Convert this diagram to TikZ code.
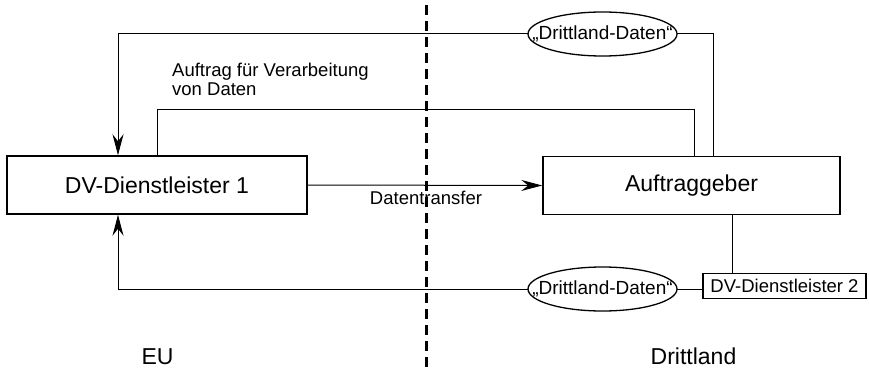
\documentclass[tikz,border=0pt]{standalone}
\usepackage{fontspec}
\setmainfont{Liberation Sans}
\usetikzlibrary{arrows.meta}
\tikzset{
  bigbox/.style={draw,line width=1.5pt,minimum width=#1,minimum height=58pt,inner sep=0pt,font=\fontsize{23}{27}\selectfont},
  smallbox/.style={draw,line width=1.3pt,minimum width=163pt,minimum height=25pt,inner sep=0pt,font=\fontsize{18.5}{22}\selectfont},
  oval/.style={inner sep=0pt,minimum width=149pt,minimum height=44pt,font=\fontsize{19}{22}\selectfont},
  ovalline/.style={line width=1.3pt},
  conn/.style={line width=1pt},
  arr/.style={line width=1pt,-{Stealth[length=21pt,width=11pt,inset=7pt]}},
  lbl/.style={inner sep=0pt,font=\fontsize{18.5}{22}\selectfont},
  biglbl/.style={inner sep=0pt,font=\fontsize{23}{27}\selectfont},
  border/.style={line width=3pt,dash pattern=on 10pt off 6pt}
}
\begin{document}
\begin{tikzpicture}[x=1pt,y=-1pt]
\useasboundingbox (0,0) rectangle (869,369);
% nodes
\node[bigbox=300pt] (dv1) at (157,185) {DV-Dienstleister 1};
\node[bigbox=297pt] (ag) at (691.5,185.5) {Auftraggeber};
\node[smallbox] (dv2) at (784.5,286) {DV-Dienstleister 2};
\node[oval] (e1) at (602.5,34) {„Drittland-Daten“};
\node[oval] (e2) at (602.5,289) {„Drittland-Daten“};
\draw[ovalline] (e1.center) ellipse [x radius=74.5pt, y radius=22pt];
\draw[ovalline] (e2.center) ellipse [x radius=74.5pt, y radius=22pt];
% coordinates
\coordinate (tl) at (118,34);
\coordinate (tr) at (713,34);
\coordinate (mr) at (694,109);
\coordinate (br) at (732,250);
\coordinate (dt) at (426,5);
\coordinate (db) at (426,369);
% dashed border
\draw[border] (dt) -- (db);
% top loop
\draw[conn] (e1.east) -| (ag.north -| tr);
\draw[arr] (e1.west) -| (dv1.north -| tl);
% middle: Auftrag
\draw[conn] (dv1.north) |- (mr) -- (ag.north -| mr);
% Datentransfer
\draw[arr] (dv1.east) -- (ag.west);
% bottom loop
\draw[arr] (e2.west) -| (dv1.south -| tl);
\draw[conn] (e2.east) -- (e2.east -| dv2.west);
\draw[conn] (ag.south -| br) -- (dv2.north -| br);
% labels
\node[lbl,anchor=base west] (a1) at (172,77) {Auftrag für Verarbeitung};
\node[lbl,anchor=base west] (a2) at (172,95.5) {von Daten};
\node[lbl,anchor=base] (dtr) at (426,204) {Datentransfer};
\node[biglbl,anchor=base] (eu) at (157.5,364) {EU};
\node[biglbl,anchor=base] (dl) at (693.5,364) {Drittland};
\end{tikzpicture}
\end{document}
